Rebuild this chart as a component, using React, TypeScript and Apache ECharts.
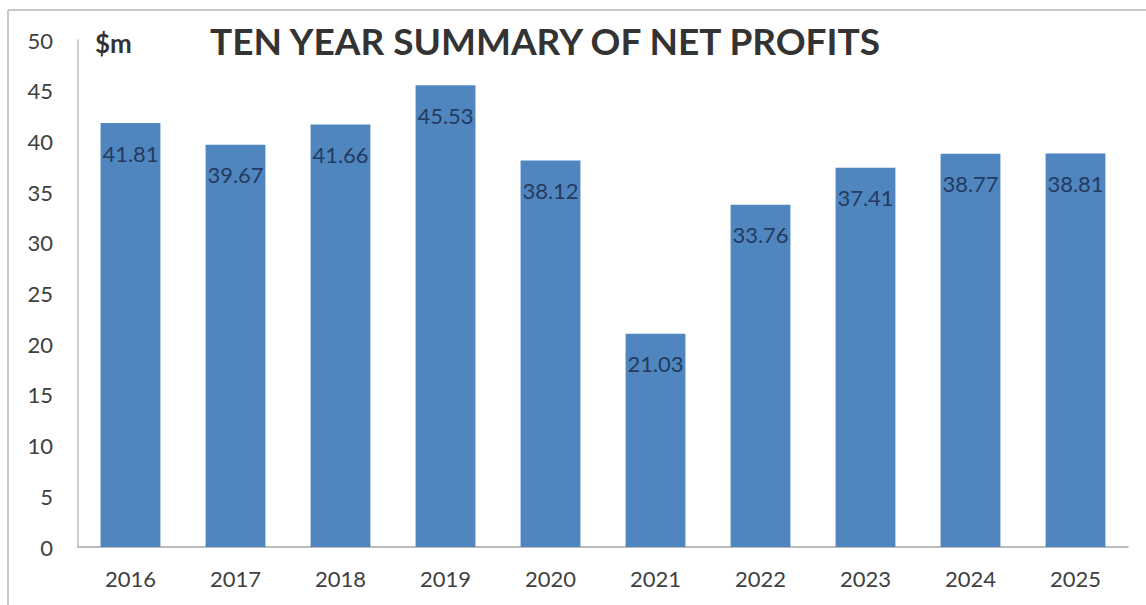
import React, { useEffect, useRef } from "react";
import * as echarts from "echarts";

const years = ["2016", "2017", "2018", "2019", "2020", "2021", "2022", "2023", "2024", "2025"];
const profits = [41.81, 39.67, 41.66, 45.53, 38.12, 21.03, 33.76, 37.41, 38.77, 38.81];
const titleText = "TEN YEAR SUMMARY OF NET PROFITS";
const unitText = "$m";

export default function App() {
  const ref = useRef<HTMLDivElement>(null);
  useEffect(() => {
    document.body.style.margin = "0";
    if (!ref.current) return;
    const chart = echarts.init(ref.current, undefined, { renderer: "svg" });
    chart.setOption({
      animation: false,
      backgroundColor: "#ffffff",
      textStyle: { fontFamily: "Lato" },
      grid: { left: 78, right: 18, top: 40, bottom: 58 },
      graphic: [
        { type: "line", shape: { x1: 8, y1: 10, x2: 1146, y2: 10 }, style: { stroke: "#c8c8c8", lineWidth: 2 } },
        { type: "line", shape: { x1: 8, y1: 10, x2: 8, y2: 605 }, style: { stroke: "#c8c8c8", lineWidth: 2 } },
        {
          type: "text", left: 210, top: 22,
          style: { text: titleText, font: "bold 37px Lato", fill: "#333333" },
        },
        {
          type: "text", left: 95, top: 30,
          style: { text: unitText, font: "bold 26px Lato", fill: "#333333" },
        },
      ],
      xAxis: {
        type: "category",
        data: years,
        axisLine: { show: true, lineStyle: { color: "#a6a6a6", width: 1.5 } },
        axisTick: { show: false },
        axisLabel: { color: "#404040", fontSize: 22, margin: 20 },
      },
      yAxis: {
        type: "value",
        min: 0,
        max: 50,
        interval: 5,
        axisLine: { show: true, lineStyle: { color: "#bfbfbf", width: 1.5 } },
        axisTick: { show: false },
        splitLine: { show: false },
        axisLabel: { color: "#404040", fontSize: 22, margin: 25 },
      },
      series: [
        {
          type: "bar",
          data: profits,
          barWidth: "57%",
          itemStyle: { color: "#4f86c0" },
          label: {
            show: true,
            position: "insideTop",
            distance: 19,
            color: "#253a5e",
            fontSize: 22,
          },
        },
      ],
    });
    return () => chart.dispose();
  }, []);
  return <div ref={ref} style={{ width: 1146, height: 605 }} />;
}
